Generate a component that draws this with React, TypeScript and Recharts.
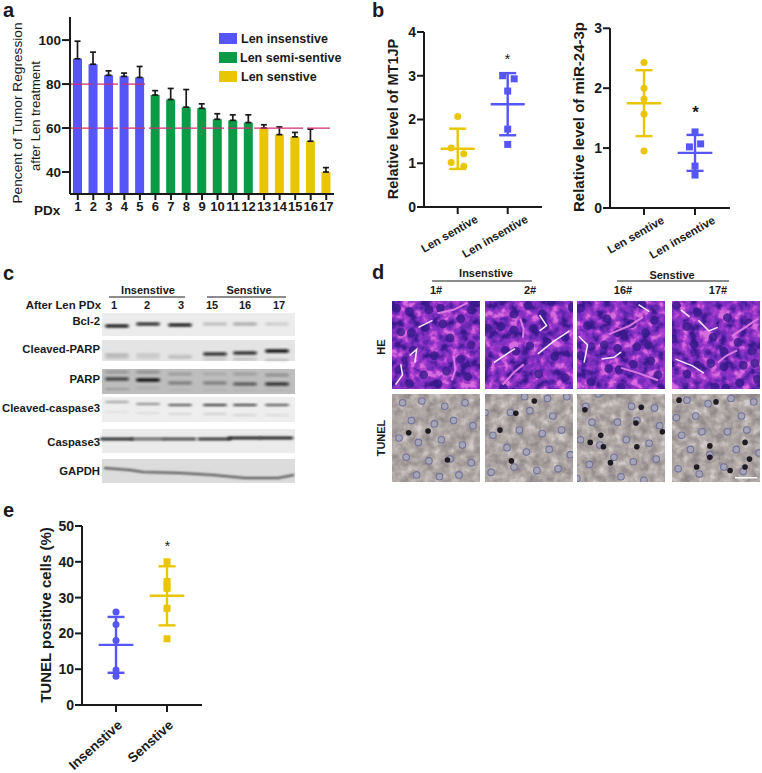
import React from 'react';
import {
  BarChart, Bar, Cell, XAxis, YAxis, ErrorBar, ReferenceLine,
  ScatterChart, Scatter,
} from 'recharts';

const FONT = '"Liberation Sans", Arial, sans-serif';
const INK = '#1a1a1a';
const BLUE = '#5656f6';
const GREEN = '#0b9a46';
const YELLOW = '#eac503';
const PINK = '#cf2f72';

// panel a
const pdxLabels = ['1', '2', '3', '4', '5', '6', '7', '8', '9', '10', '11', '12', '13', '14', '15', '16', '17'];
const regression = [91.5, 89, 84, 83.5, 83, 75, 73, 69.5, 69, 64, 63.5, 62.5, 60, 57, 56, 54, 40];
const regressionErr = [8, 5.5, 2, 1.5, 5, 2, 5, 8, 2, 2.5, 2.5, 3.5, 1.5, 3.5, 2, 5.5, 2];
const barGroups = ['ins', 'ins', 'ins', 'ins', 'ins', 'semi', 'semi', 'semi', 'semi', 'semi', 'semi', 'semi', 'sen', 'sen', 'sen', 'sen', 'sen'];
const groupColors: Record<string, string> = { ins: BLUE, semi: GREEN, sen: YELLOW };
const barData = pdxLabels.map((name, i) => ({ name, value: regression[i], err: [0, regressionErr[i]], group: barGroups[i] }));
const legendItems = [
  { label: 'Len insenstive', color: BLUE, y: 33, tx: 241 },
  { label: 'Len semi-sentive', color: GREEN, y: 52, tx: 240 },
  { label: 'Len senstive', color: YELLOW, y: 71, tx: 241 },
];

// panel b, e: x offsets around the group centre (1 or 2) are the jitter in the dot plots
const mt1jpSen = [[1, 2.07], [0.87, 1.35], [1.12, 1.22], [0.87, 1.02], [1.12, 0.93]];
const mt1jpIns = [[1.9, 3.0], [2.13, 2.93], [2, 2.65], [2, 1.78], [2, 1.43]];
const mirSen = [[1, 2.43], [1, 2.0], [1, 1.82], [1, 1.57], [1, 0.95]];
const mirIns = [[2, 1.27], [2.11, 1.07], [1.89, 1.02], [2, 0.7], [2, 0.55]];
const tunelIns = [[1, 26], [1, 22.5], [1, 18], [1, 9.8], [1, 8]];
const tunelSen = [[2, 40], [2, 34.5], [2, 33.3], [2, 32.6], [2, 27], [2, 18.5]];

// panel c
const laneCenters = [117, 148, 180, 215, 245, 277];
const laneWidth = 23;
const blotRows = [
  { name: 'Bcl-2', top: 313, bottom: 336, bg: '#ececec', labelY: 321, bands: [
    { y: [326, 324, 325, 324, 324, 324], dark: [1, 0.9, 1, 0.22, 0.3, 0.14], h: 3 },
  ] },
  { name: 'Cleaved-PARP', top: 340, bottom: 361, bg: '#e4e4e4', labelY: 349, bands: [
    { y: [355, 355, 356, 354, 353, 351], dark: [0.22, 0.13, 0.12, 0.85, 0.85, 1], h: 3.4 },
    { y: [358, 358, 358, 359, 359, 360], dark: [0.16, 0.1, 0.12, 0.18, 0.2, 0.2], h: 2 },
  ] },
  { name: 'PARP', top: 369, bottom: 394, bg: '#bdbdbd', labelY: 379, bands: [
    { y: [379, 380, 383, 383, 384, 384], dark: [0.7, 1, 0.35, 0.35, 0.55, 0.8], h: 3.4 },
    { y: [372, 372, 374, 374, 374, 375], dark: [0.25, 0.3, 0.2, 0.12, 0.2, 0.3], h: 2.5 },
    { y: [389, 388, 390, 390, 390, 390], dark: [0.2, 0.1, 0.05, 0.05, 0.05, 0.05], h: 2 },
  ] },
  { name: 'Cleaved-caspase3', top: 397, bottom: 422, bg: '#eeeeee', labelY: 408, bands: [
    { y: [402, 404, 405, 405, 405, 405], dark: [0.35, 0.45, 0.7, 0.85, 0.8, 0.7], h: 2 },
    { y: [412, 413, 414, 414, 415, 415], dark: [0.06, 0.08, 0.1, 0.14, 0.12, 0.08], h: 2 },
  ] },
  { name: 'Caspase3', top: 429, bottom: 453, bg: '#ebebeb', labelY: 442, bands: [
    { y: [439, 439, 439, 439, 438, 438], dark: [0.95, 0.65, 0.8, 0.9, 1, 1], h: 2.6 },
  ] },
  { name: 'GAPDH', top: 459, bottom: 483, bg: '#dcdcdc', labelY: 471, bands: [] },
];
const gapdhTrace = [[104, 468], [130, 470], [143, 472], [180, 473], [213, 475], [245, 478], [278, 478], [294, 475]];

// panel d
const photoCols = [392, 485, 577, 672];
const photoSize = 88;
const heTop = 301;
const tunelTop = 394;
const nucleiRings = [
  [0.12, 0.1], [0.34, 0.08], [0.6, 0.14], [0.83, 0.1], [0.22, 0.3], [0.48, 0.34], [0.7, 0.3], [0.92, 0.36],
  [0.08, 0.5], [0.3, 0.55], [0.56, 0.52], [0.8, 0.58], [0.16, 0.72], [0.42, 0.76], [0.66, 0.74], [0.9, 0.78],
  [0.28, 0.92], [0.54, 0.94], [0.76, 0.92],
];
const tunelBlack = [
  [[0.41, 0.42], [0.63, 0.75], [0.19, 0.44]],
  [[0.35, 0.22], [0.17, 0.41], [0.56, 0.08], [0.3, 0.76]],
  [[0.09, 0.18], [0.73, 0.15], [0.67, 0.33], [0.27, 0.47], [0.15, 0.55], [0.3, 0.6], [0.68, 0.6], [0.97, 0.43], [0.38, 0.78]],
  [[0.08, 0.07], [0.5, 0.09], [0.83, 0.55], [0.43, 0.59], [0.43, 0.72], [0.88, 0.74], [0.28, 0.83], [0.66, 0.87], [0.83, 0.83]],
];
const heDark = [
  [0.2, 0.12], [0.55, 0.08], [0.78, 0.2], [0.1, 0.35], [0.38, 0.3], [0.66, 0.42], [0.9, 0.5],
  [0.24, 0.56], [0.48, 0.62], [0.08, 0.78], [0.36, 0.84], [0.62, 0.8], [0.86, 0.86],
  [0.05, 0.08], [0.42, 0.1], [0.9, 0.1], [0.58, 0.26], [0.22, 0.36], [0.78, 0.66], [0.2, 0.94], [0.52, 0.94],
];
// pale gaps between the cells, one set per photo, in panel fractions
const heCracks = [
  [[[0.2, 0.62], [0.28, 0.55], [0.26, 0.7]], [[0.52, 0.14], [0.7, 0.1], [0.86, 0.02]], [[0.04, 0.95], [0.12, 0.84], [0.1, 0.72]], [[0.7, 0.62], [0.72, 0.78], [0.68, 0.9]], [[0.3, 0.3], [0.46, 0.22]]],
  [[[0.1, 0.7], [0.22, 0.62], [0.34, 0.54]], [[0.4, 0.2], [0.44, 0.32], [0.43, 0.42]], [[0.62, 0.16], [0.7, 0.28], [0.62, 0.34]], [[0.2, 0.95], [0.34, 0.8], [0.44, 0.72]], [[0.6, 0.6], [0.78, 0.46], [0.96, 0.34]]],
  [[[0.02, 0.4], [0.12, 0.5], [0.08, 0.7]], [[0.5, 0.76], [0.7, 0.82], [0.92, 0.9]], [[0.28, 0.66], [0.42, 0.64], [0.5, 0.58]], [[0.36, 0.38], [0.6, 0.28], [0.75, 0.18]], [[0.7, 0.04], [0.82, 0.12]]],
  [[[0.3, 0.22], [0.42, 0.34], [0.52, 0.3]], [[0.52, 0.7], [0.62, 0.62], [0.74, 0.56]], [[0.04, 0.66], [0.24, 0.74], [0.36, 0.82]], [[0.68, 0.4], [0.86, 0.28], [0.98, 0.2]], [[0.1, 0.1], [0.2, 0.18]]],
];

function CircleDot(p: any) {
  return <circle cx={p.cx} cy={p.cy} r={3.5} fill={p.fill} />;
}
function SquareDot(p: any) {
  return <rect x={p.cx - 3.5} y={p.cy - 3.5} width={7} height={7} fill={p.fill} />;
}

function StatPanel({ left, top, width, height, axisX, axisTop, axisBottom, axisRight, yMax, yTicks, xDomain, groups, tickNames, tickAngle, tickSize, tickDx, tickDy, xHeight }: any) {
  const renderTick = (p: any) => (
    <text
      transform={`translate(${p.x + tickDx} ${p.y + tickDy}) rotate(${tickAngle})`}
      textAnchor="end"
      dominantBaseline="central"
      fontFamily={FONT}
      fontSize={tickSize}
      fontWeight={700}
      fill={INK}
    >
      {tickNames[p.payload.value - 1]}
    </text>
  );
  return (
    <div style={{ position: 'absolute', left, top }}>
      <ScatterChart
        width={width}
        height={height}
        margin={{ top: axisTop - top, right: left + width - axisRight, bottom: 0, left: 0 }}
      >
        <XAxis
          type="number"
          dataKey="x"
          domain={xDomain}
          ticks={[1, 2]}
          interval={0}
          allowDataOverflow
          height={xHeight}
          tick={renderTick}
          tickSize={7}
          tickMargin={2}
          axisLine={{ stroke: INK, strokeWidth: 2 }}
          tickLine={{ stroke: INK, strokeWidth: 2 }}
        />
        <YAxis
          type="number"
          dataKey="y"
          domain={[0, yMax]}
          ticks={yTicks}
          interval={0}
          width={axisX - left}
          tick={{ fontSize: 14, fontWeight: 700, fill: INK, fontFamily: FONT }}
          tickSize={7}
          tickMargin={1}
          axisLine={{ stroke: INK, strokeWidth: 2 }}
          tickLine={{ stroke: INK, strokeWidth: 2 }}
        />
        {groups.map((g: any, i: number) => (
          <Scatter
            key={`pts-${i}`}
            data={g.points.map(([x, y]: number[]) => ({ x, y }))}
            fill={g.color}
            shape={g.shape === 'square' ? SquareDot : CircleDot}
            isAnimationActive={false}
          />
        ))}
        {groups.map((g: any, i: number) => (
          <Scatter
            key={`mean-${i}`}
            data={[{ x: g.center, y: g.mean, sd: g.sd, half: 0.34 }]}
            fill={g.color}
            shape={() => <g />}
            isAnimationActive={false}
          >
            <ErrorBar dataKey="sd" direction="y" width={8.5} stroke={g.color} strokeWidth={2.4} isAnimationActive={false} />
            <ErrorBar dataKey="half" direction="x" width={0} stroke={g.color} strokeWidth={2.4} isAnimationActive={false} />
          </Scatter>
        ))}
      </ScatterChart>
    </div>
  );
}

function Blot() {
  return (
    <svg width={762} height={773} style={{ position: 'absolute', left: 0, top: 0 }}>
      <defs>
        <filter id="bandBlur" x="-20%" y="-200%" width="140%" height="500%">
          <feGaussianBlur stdDeviation="1.6 0.9" />
        </filter>
        <filter id="traceBlur" x="-5%" y="-50%" width="110%" height="200%">
          <feGaussianBlur stdDeviation="0.9" />
        </filter>
      </defs>
      {blotRows.map((row) => (
        <g key={row.name}>
          <rect x={102} y={row.top} width={193} height={row.bottom - row.top} fill={row.bg} />
          {row.bands.map((band, b) =>
            laneCenters.map((cx, l) => (
              <rect
                key={`${b}-${l}`}
                x={row.name === 'Caspase3' ? cx - 17 : cx - laneWidth / 2}
                y={band.y[l] - band.h / 2}
                width={row.name === 'Caspase3' ? 33 : laneWidth}
                height={band.h}
                fill="#0c0c0c"
                opacity={band.dark[l]}
                filter="url(#bandBlur)"
              />
            )),
          )}
        </g>
      ))}
      <polyline
        points={gapdhTrace.map((p) => p.join(',')).join(' ')}
        fill="none"
        stroke="#4a4a4a"
        strokeWidth={2.2}
        filter="url(#traceBlur)"
      />
    </svg>
  );
}

function Photos() {
  return (
    <svg width={762} height={773} style={{ position: 'absolute', left: 0, top: 0 }}>
      <defs>
        {photoCols.map((x, i) => (
          <g key={i}>
            <filter id={`he${i}`} x="0" y="0" width="100%" height="100%" colorInterpolationFilters="sRGB">
              <feTurbulence type="fractalNoise" baseFrequency="0.1" numOctaves={3} seed={11 + i * 7} />
              <feColorMatrix values="2.2 0 0 0 -0.6  2.2 0 0 0 -0.6  2.2 0 0 0 -0.6  0 0 0 0 1" />
              <feComponentTransfer>
                <feFuncR type="table" tableValues="0.24 0.36 0.47 0.56 0.7 0.84" />
                <feFuncG type="table" tableValues="0.1 0.14 0.18 0.2 0.26 0.42" />
                <feFuncB type="table" tableValues="0.56 0.66 0.74 0.78 0.82 0.88" />
              </feComponentTransfer>
            </filter>
            <filter id={`tu${i}`} x="0" y="0" width="100%" height="100%" colorInterpolationFilters="sRGB">
              <feTurbulence type="fractalNoise" baseFrequency="0.12" numOctaves={3} seed={31 + i * 5} />
              <feColorMatrix values="1.6 0 0 0 -0.3  1.6 0 0 0 -0.3  1.6 0 0 0 -0.3  0 0 0 0 1" />
              <feComponentTransfer>
                <feFuncR type="table" tableValues="0.56 0.62 0.68 0.74 0.82" />
                <feFuncG type="table" tableValues="0.53 0.59 0.65 0.71 0.8" />
                <feFuncB type="table" tableValues="0.54 0.59 0.64 0.7 0.8" />
              </feComponentTransfer>
            </filter>
            <clipPath id={`heClip${i}`}><rect x={x} y={heTop} width={photoSize} height={photoSize} /></clipPath>
            <clipPath id={`tuClip${i}`}><rect x={x} y={tunelTop} width={photoSize} height={photoSize} /></clipPath>
          </g>
        ))}
        <filter id="soft"><feGaussianBlur stdDeviation="0.6" /></filter>
      </defs>
      {photoCols.map((x, i) => (
        <g key={x}>
          <rect x={x} y={heTop} width={photoSize} height={photoSize} filter={`url(#he${i})`} />
          <g clipPath={`url(#heClip${i})`}>
            <g filter="url(#soft)">
              {heDark.map(([u, v], k) => (
                <circle
                  key={k}
                  cx={x + ((u + i * 0.13) % 1) * photoSize}
                  cy={heTop + ((v + i * 0.21) % 1) * photoSize}
                  r={4.4}
                  fill="#34168a"
                  opacity={0.78}
                />
              ))}
              {heCracks[i].map((pts, k) => (
                <polyline
                  key={k}
                  points={pts.map(([u, v]) => `${x + u * photoSize},${heTop + v * photoSize}`).join(' ')}
                  fill="none"
                  stroke={k % 2 === 0 ? '#f8e8fa' : '#dc78e2'}
                  strokeWidth={k % 2 === 0 ? 1.5 : 2}
                />
              ))}
            </g>
          </g>
          <rect x={x} y={tunelTop} width={photoSize} height={photoSize} filter={`url(#tu${i})`} />
          <g clipPath={`url(#tuClip${i})`}>
            <g filter="url(#soft)">
              {nucleiRings.map(([u, v], k) => (
                <circle
                  key={k}
                  cx={x + ((u + i * 0.17) % 1) * photoSize}
                  cy={tunelTop + ((v + i * 0.11) % 1) * photoSize}
                  r={3.3}
                  fill="#a6a5b6"
                  stroke="#74749a"
                  strokeWidth={1.1}
                />
              ))}
              {tunelBlack[i].map(([u, v], k) => (
                <circle key={k} cx={x + u * photoSize} cy={tunelTop + v * photoSize} r={2.8} fill="#1f1d22" />
              ))}
            </g>
          </g>
        </g>
      ))}
      <rect x={735} y={477} width={22} height={1.5} fill="#fff" />
    </svg>
  );
}

const labels = [
  { t: 'a', x: 3, y: 10, s: 20, w: 700 },
  { t: 'b', x: 372, y: 10, s: 20, w: 700 },
  { t: 'c', x: 3, y: 273, s: 20, w: 700 },
  { t: 'd', x: 372, y: 272, s: 20, w: 700 },
  { t: 'e', x: 3, y: 510, s: 20, w: 700 },
  { t: 'Pencent of Tumor Regression', x: 17, y: 113, s: 13.7, r: -90, a: 'middle' },
  { t: 'after Len treatment', x: 35, y: 116, s: 13, r: -90, a: 'middle' },
  { t: 'PDx', x: 34, y: 210, s: 13.5, w: 700 },
  { t: 'Relative level of MT1JP', x: 393, y: 119, s: 14.5, w: 700, r: -90, a: 'middle' },
  { t: 'Relative level of miR-24-3p', x: 578, y: 117, s: 15, w: 700, r: -90, a: 'middle' },
  { t: '*', x: 507.5, y: 59, s: 14, a: 'middle' },
  { t: '*', x: 695.5, y: 112, s: 17, w: 700, a: 'middle' },
  { t: '*', x: 167.5, y: 546, s: 14, a: 'middle' },
  { t: 'TUNEL positive cells (%)', x: 45, y: 615, s: 15, w: 700, r: -90, a: 'middle' },
  { t: 'Insenstive', x: 148, y: 290, s: 11, w: 700, a: 'middle' },
  { t: 'Senstive', x: 249, y: 290, s: 11, w: 700, a: 'middle' },
  { t: 'After Len PDx', x: 101, y: 305, s: 11.4, w: 700, a: 'end' },
  { t: '1', x: 114, y: 305, s: 11, w: 700, a: 'middle' },
  { t: '2', x: 147, y: 305, s: 11, w: 700, a: 'middle' },
  { t: '3', x: 181, y: 305, s: 11, w: 700, a: 'middle' },
  { t: '15', x: 212, y: 305, s: 11, w: 700, a: 'middle' },
  { t: '16', x: 245, y: 305, s: 11, w: 700, a: 'middle' },
  { t: '17', x: 279, y: 305, s: 11, w: 700, a: 'middle' },
  ...blotRows.map((r) => ({ t: r.name, x: 100, y: r.labelY, s: 11.3, w: 700, a: 'end' })),
  { t: 'Insenstive', x: 486, y: 273, s: 11, w: 700, a: 'middle' },
  { t: 'Senstive', x: 672, y: 275, s: 11, w: 700, a: 'middle' },
  { t: '1#', x: 436, y: 290, s: 11, w: 700, a: 'middle' },
  { t: '2#', x: 530, y: 290, s: 11, w: 700, a: 'middle' },
  { t: '16#', x: 623, y: 290, s: 11, w: 700, a: 'middle' },
  { t: '17#', x: 718, y: 290, s: 11, w: 700, a: 'middle' },
  { t: 'HE', x: 381, y: 347, s: 11, w: 700, r: -90, a: 'middle' },
  { t: 'TUNEL', x: 381, y: 438, s: 11, w: 700, r: -90, a: 'middle' },
];

const headerLines = [
  [109, 185, 297],
  [207, 286, 297],
  [432, 532, 281],
  [617, 729, 281],
];

function Overlay() {
  return (
    <svg width={762} height={773} style={{ position: 'absolute', left: 0, top: 0, pointerEvents: 'none' }}>
      {legendItems.map((item) => (
        <g key={item.label}>
          <rect x={219} y={item.y} width={18} height={11} fill={item.color} />
          <text x={item.tx} y={item.y + 5.5} fontFamily={FONT} fontWeight={700} fontSize={12.5} fill={INK} dominantBaseline="central">{item.label}</text>
        </g>
      ))}
      {headerLines.map(([x1, x2, y], i) => (
        <line key={i} x1={x1} x2={x2} y1={y} y2={y} stroke={INK} strokeWidth={1} />
      ))}
      {labels.map((l: any, i) => (
        <text
          key={i}
          x={l.x}
          y={l.y}
          fontFamily={FONT}
          fontSize={l.s}
          fontWeight={l.w || 400}
          fill={INK}
          textAnchor={l.a || 'start'}
          dominantBaseline="central"
          transform={l.r ? `rotate(${l.r} ${l.x} ${l.y})` : undefined}
        >
          {l.t}
        </text>
      ))}
    </svg>
  );
}

export default function App() {
  return (
    <div style={{ position: 'absolute', left: 0, top: 0, width: 762, height: 773, background: '#fff', overflow: 'hidden' }}>
      <Blot />
      <Photos />
      <div style={{ position: 'absolute', left: 0, top: 0 }}>
        <BarChart
          width={345}
          height={225}
          data={barData}
          margin={{ top: 17, right: 11, bottom: 0, left: 0 }}
          barSize={9}
        >
          <XAxis
            dataKey="name"
            interval={0}
            height={31}
            tick={{ fontSize: 13, fontWeight: 700, fill: INK, fontFamily: FONT }}
            tickSize={6}
            tickMargin={2}
            axisLine={{ stroke: INK, strokeWidth: 2 }}
            tickLine={{ stroke: INK, strokeWidth: 2 }}
          />
          <YAxis
            type="number"
            domain={[30, 110.5]}
            ticks={[40, 60, 80, 100]}
            interval={0}
            width={70}
            tick={{ fontSize: 13.5, fontWeight: 700, fill: INK, fontFamily: FONT }}
            tickSize={8}
            tickMargin={1}
            axisLine={{ stroke: INK, strokeWidth: 2 }}
            tickLine={{ stroke: INK, strokeWidth: 2 }}
          />
          <Bar dataKey="value" isAnimationActive={false}>
            {barData.map((d, i) => (
              <Cell key={`cell-${i}`} fill={groupColors[d.group]} />
            ))}
            <ErrorBar dataKey="err" direction="y" width={3} stroke={INK} strokeWidth={1.7} isAnimationActive={false} />
          </Bar>
          <ReferenceLine y={80} stroke={PINK} strokeWidth={1.2} strokeDasharray="23 4 21 4 23 400" />
          <ReferenceLine y={60} stroke={PINK} strokeWidth={1.2} strokeDasharray="23 4 21 4 23 4 23 3 22 5 22 4 23 3 49 4 23 100" />
        </BarChart>
      </div>
      <StatPanel
        left={395} top={0} width={160} height={262} axisX={424} axisTop={32} axisBottom={207} axisRight={542}
        yMax={4} yTicks={[0, 1, 2, 3, 4]} xDomain={[0.326, 2.686]} tickNames={['Len sentive', 'Len insentive']} tickAngle={-30} tickSize={11.5} tickDx={19} tickDy={2} xHeight={55}
        groups={[
          { points: mt1jpSen, color: YELLOW, shape: 'circle', center: 1, mean: 1.33, sd: 0.46 },
          { points: mt1jpIns, color: BLUE, shape: 'square', center: 2, mean: 2.35, sd: 0.71 },
        ]}
      />
      <StatPanel
        left={582} top={0} width={170} height={262} axisX={610} axisTop={28.3} axisBottom={208} axisRight={730}
        yMax={3} yTicks={[0, 1, 2, 3]} xDomain={[0.333, 2.686]} tickNames={['Len sentive', 'Len insentive']} tickAngle={-30} tickSize={11.5} tickDx={19} tickDy={2} xHeight={54}
        groups={[
          { points: mirSen, color: YELLOW, shape: 'circle', center: 1, mean: 1.75, sd: 0.55 },
          { points: mirIns, color: BLUE, shape: 'square', center: 2, mean: 0.92, sd: 0.3 },
        ]}
      />
      <StatPanel
        left={50} top={510} width={165} height={263} axisX={82} axisTop={526} axisBottom={705} axisRight={202}
        yMax={50} yTicks={[0, 10, 20, 30, 40, 50]} xDomain={[0.333, 2.686]} tickNames={['Insenstive', 'Senstive']} tickAngle={-42} tickSize={13.5} tickDx={4} tickDy={9} xHeight={68}
        groups={[
          { points: tunelIns, color: BLUE, shape: 'circle', center: 1, mean: 16.8, sd: 7.8 },
          { points: tunelSen, color: YELLOW, shape: 'square', center: 2, mean: 30.5, sd: 8.25 },
        ]}
      />
      <Overlay />
    </div>
  );
}
